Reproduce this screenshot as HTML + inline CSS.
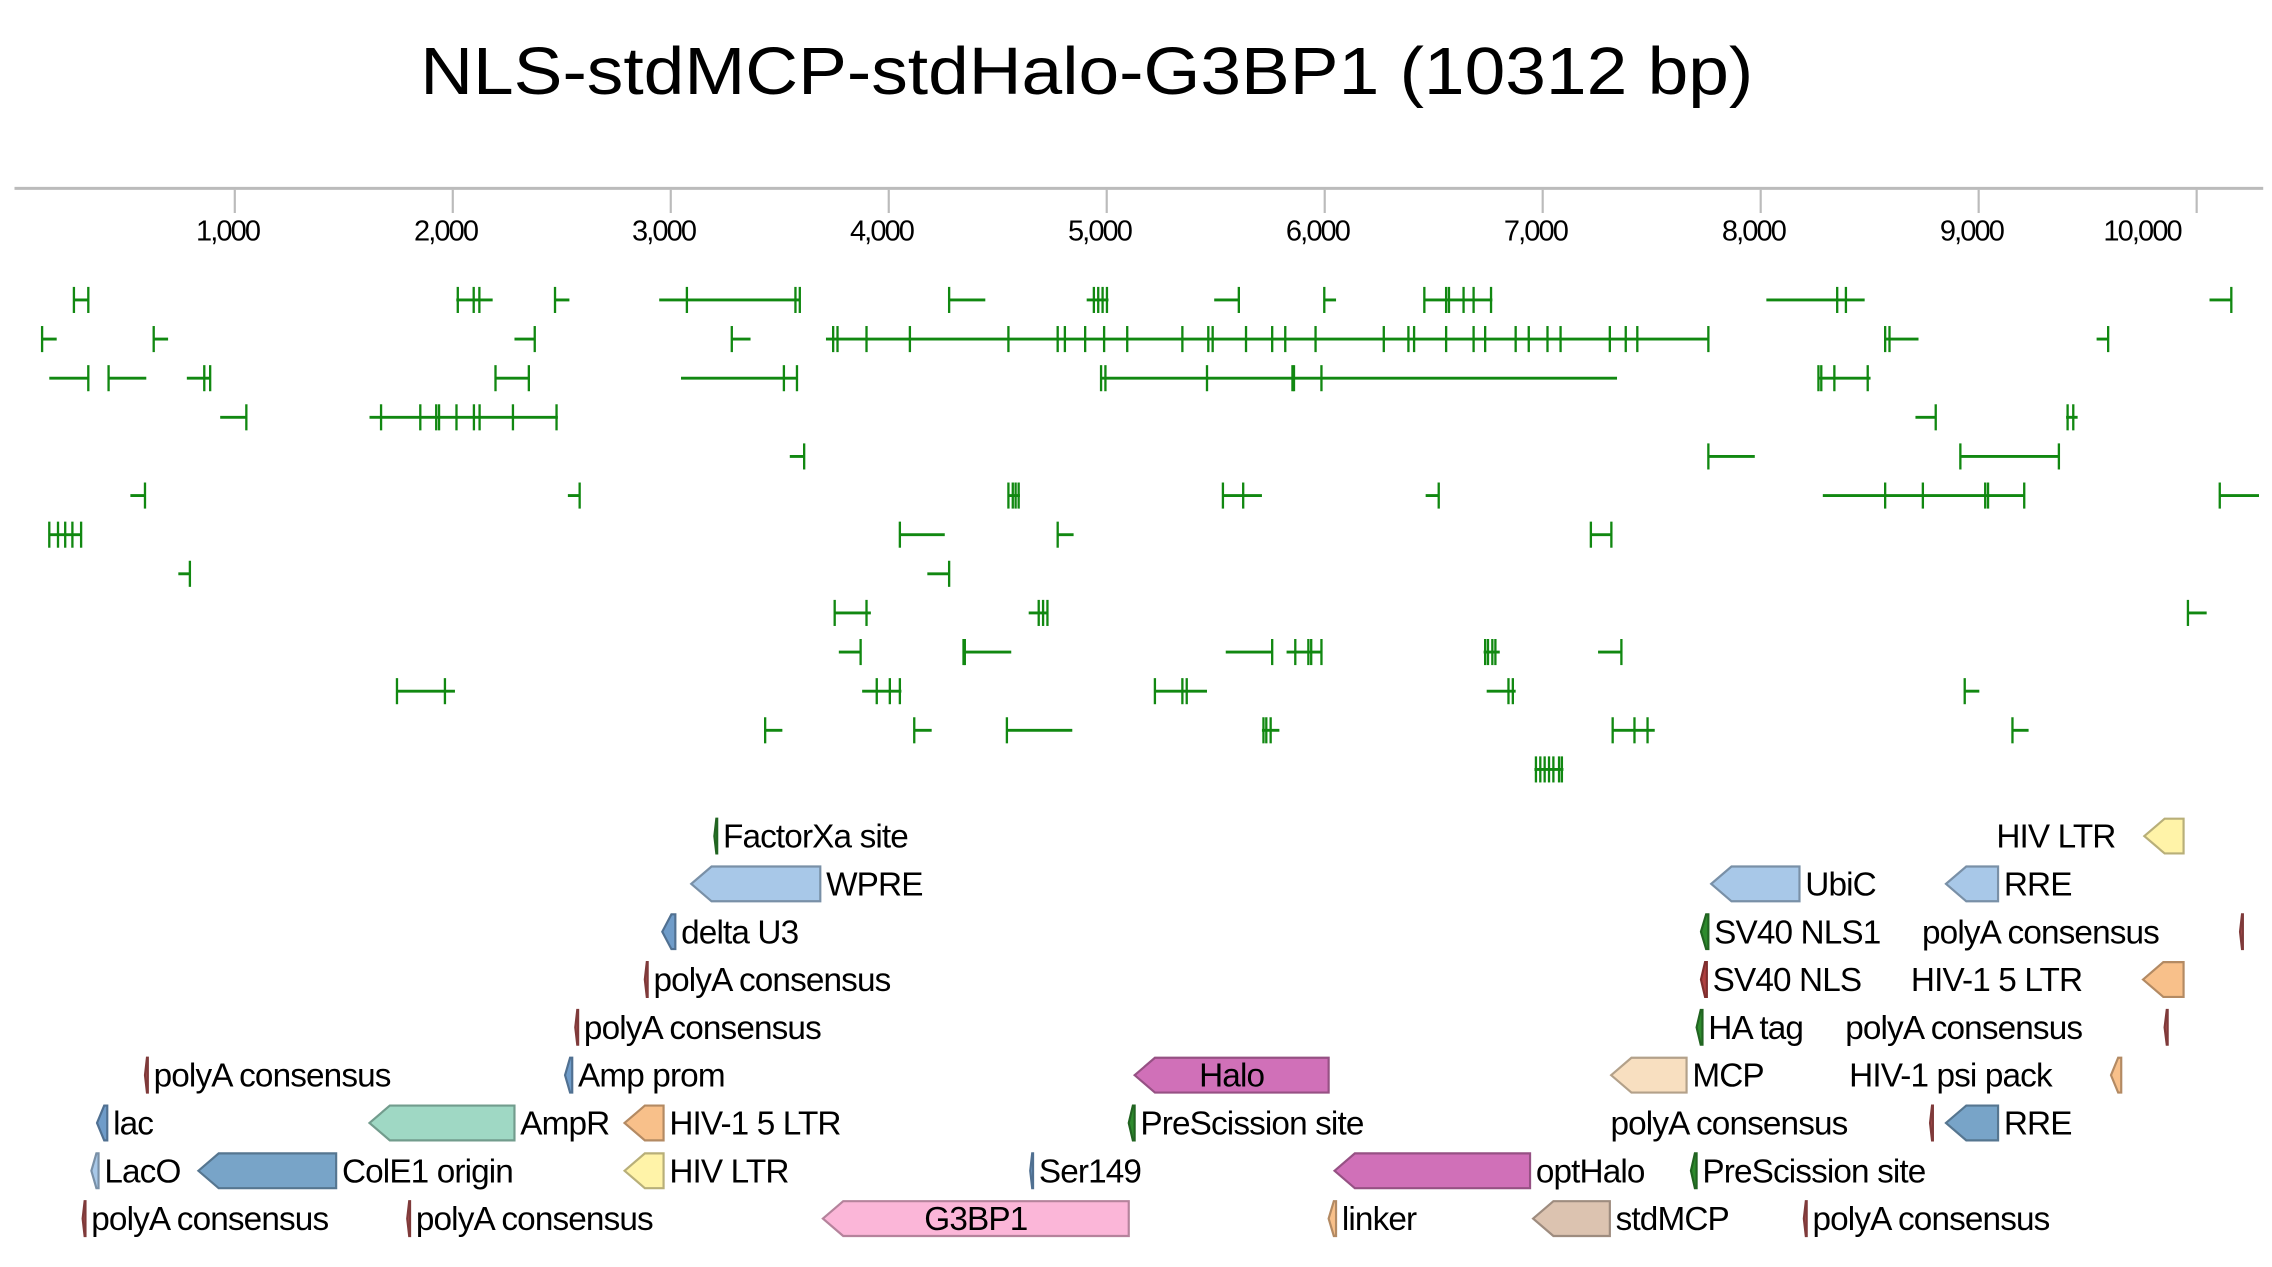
<!DOCTYPE html>
<html><head><meta charset="utf-8"><style>
html,body{margin:0;padding:0;background:#fff;}
svg{display:block;font-family:"Liberation Sans",sans-serif;}
</style></head><body>
<svg id="chart" width="2272" height="1267" viewBox="0 0 1568 874.4" xmlns="http://www.w3.org/2000/svg">
<text x="750" y="65" font-size="46" text-anchor="middle" textLength="920" lengthAdjust="spacingAndGlyphs">NLS-stdMCP-stdHalo-G3BP1 (10312 bp)</text>
<g id="axis"></g>
<g id="orfs"></g>
<g id="feats"></g>
</svg>
<script>
const seqLength = 10312;
const tickValues = [1000,2000,3000,4000,5000,6000,7000,8000,9000,10000];
const tickLabels = ["1,000","2,000","3,000","4,000","5,000","6,000","7,000","8,000","9,000","10,000"];
// ORF rows: each row list of [start, end, [marks...]]
const orfRows = [
 [[262,328,[262,328]],[2016,2183,[2023,2096,2122]],[2469,2535,[2469]],[2947,3592,[3074,3572,3592]],[4277,4443,[4277]],[4908,5008,[4941,4961,4981,5001]],[5493,5606,[5606]],[5998,6052,[5998]],[6457,6769,[6457,6557,6570,6637,6683,6763]],[8026,8477,[8351,8391]],[10059,10159,[10159]]],
 [[116,183,[116]],[628,694,[628]],[2283,2376,[2376]],[3280,3366,[3280]],[3712,7760,[3745,3765,3898,4097,4549,4775,4808,4901,4988,5094,5347,5466,5486,5639,5759,5819,5958,6271,6384,6410,6557,6683,6736,6876,6936,7022,7082,7308,7381,7434,7760]],[8571,8724,[8571,8591]],[9541,9594,[9594]]],
 [[149,328,[328]],[421,594,[421]],[780,887,[860,887]],[2196,2349,[2196,2349]],[3047,3579,[3519,3579]],[4974,7341,[4974,4994,5460,5852,5859,5985]],[8265,8504,[8265,8278,8338,8491]]],
 [[933,1053,[1053]],[1618,2482,[1671,1851,1924,1937,2017,2097,2123,2276,2476]],[8710,8803,[8803]],[9401,9454,[9408,9434]]],
 [[3546,3612,[3612]],[7760,7973,[7760]],[8916,9368,[8916,9368]]],
 [[521,588,[588]],[2528,2582,[2582]],[4549,4602,[4549,4569,4582,4596]],[5533,5712,[5533,5626]],[6463,6523,[6523]],[8285,9209,[8571,8744,9030,9043,9209]],[10106,10286,[10106]]],
 [[149,295,[149,189,222,255,295]],[4051,4257,[4051]],[4775,4848,[4775]],[7221,7315,[7221,7315]]],
 [[741,794,[794]],[4177,4277,[4277]]],
 [[3752,3918,[3752,3898]],[4642,4728,[4688,4708,4728]],[9960,10046,[9960]]],
 [[3771,3871,[3871]],[4343,4562,[4343,4349]],[5546,5759,[5759]],[5825,5985,[5865,5925,5938,5985]],[6729,6803,[6736,6749,6769,6783]],[7254,7361,[7361]]],
 [[1744,2010,[1744,1964]],[3878,4058,[3945,4005,4051]],[5221,5460,[5221,5347,5367]],[6743,6876,[6843,6863]],[8936,9003,[8936]]],
 [[3433,3512,[3433]],[4117,4197,[4117]],[4542,4842,[4542]],[5712,5792,[5719,5732,5752]],[7321,7514,[7321,7421,7481]],[9155,9229,[9155]]],
 [[6962,7095,[6969,6989,7009,7029,7049,7075,7088]]]
];
const featNames = ["FactorXa site","HIV LTR","WPRE","UbiC","RRE","delta U3","SV40 NLS1","polyA consensus","polyA consensus","SV40 NLS","HIV-1 5 LTR","polyA consensus","HA tag","polyA consensus","polyA consensus","Amp prom","Halo","MCP","HIV-1 psi pack","lac","AmpR","HIV-1 5 LTR","PreScission site","polyA consensus","RRE","LacO","ColE1 origin","HIV LTR","Ser149","optHalo","PreScission site","polyA consensus","polyA consensus","G3BP1","linker","stdMCP","polyA consensus"];
const featStart = [3200,9760,3094,7773,8850,2961,7726,10199,2881,7726,9754,2562,7706,9853,588,2515,5128,7314,9607,368,1618,2788,5101,8777,8850,342,833,2788,4649,6045,7680,302,1791,3698,6018,6956,8198];
const featEnd   = [3213,9940,3686,8178,9089,3021,7760,10212,2894,7753,9940,2575,7733,9867,601,2548,6018,7660,9654,415,2283,2967,5128,8790,9089,375,1465,2967,4662,6942,7706,315,1804,5101,6052,7308,8211];
const featRow   = [0,0,1,1,1,2,2,2,3,3,3,4,4,4,5,5,5,5,5,6,6,6,6,6,6,7,7,7,7,7,7,8,8,8,8,8,8];
const featLabelPos = ["r","l","r","r","r","r","r","l","r","r","l","r","r","l","r","r","in","r","l","r","r","r","r","l","r","r","r","r","r","r","r","r","r","in","r","r","r"];
const featLabelLeftEnd = {1:1460,7:1490,10:1437,13:1437,18:1416,23:1275};
const featColor = ["#2e8b2e","#fff3a8","#a8c8e8","#a8c8e8","#a8c8e8","#6f9cc9","#2e8b2e","#b05050","#b05050","#b04040","#f8c08a","#b05050","#2e8b2e","#b05050","#b05050","#6f9cc9","#d070b8","#f8dfc0","#f8c08a","#6f9cc9","#9fd8c4","#f8c08a","#2e8b2e","#b05050","#78a4c8","#a8c8e8","#78a4c8","#fff3a8","#6f9cc9","#d070b8","#2e8b2e","#b05050","#b05050","#fbb6d8","#f8c08a","#dcc3b0","#b05050"];

const NS="http://www.w3.org/2000/svg";
function xs(bp){ return 11.6 + bp*0.15044; }
function mk(tag, attrs, parent){ const e=document.createElementNS(NS,tag); for(const k in attrs) e.setAttribute(k,attrs[k]); parent.appendChild(e); return e; }
function darker(hex){ const n=parseInt(hex.slice(1),16); const r=Math.round(((n>>16)&255)*0.72),g=Math.round(((n>>8)&255)*0.72),b=Math.round((n&255)*0.72); return `rgb(${r},${g},${b})`; }

const axis=document.getElementById('axis');
const axLine=mk('line',{x1:10,y1:130,x2:xs(seqLength)-1,y2:130,stroke:'#bbb','stroke-width':2},axis);


tickValues.forEach((v,i)=>{
  const x=xs(v);
  const t=mk('line',{x1:x,y1:131,x2:x,y2:147,stroke:'#bbb','stroke-width':1.5},axis);
  
  
  const last=i===tickValues.length-1;
  const lb=mk('text',{x:last?x-11:x-5,y:166,'font-size':20,'text-anchor':last?'end':'middle','letter-spacing':-1.3},axis);
  lb.textContent=tickLabels[i];
  
  
});

const orfs=document.getElementById('orfs');
orfRows.forEach((row,ri)=>{
  const y=207+ri*27;
  row.forEach(seg=>{
    const g=mk('g',{},orfs);
    
    
    mk('line',{x1:xs(seg[0]),y1:y,x2:xs(seg[1]),y2:y,stroke:'#118811','stroke-width':2},g);
    seg[2].forEach(m=>{ mk('line',{x1:xs(m),y1:y-9,x2:xs(m),y2:y+9,stroke:'#118811','stroke-width':1.6},g); });
  });
});

const feats=document.getElementById('feats');
featNames.forEach((name,i)=>{
  const yc=577+featRow[i]*33;
  const x1=xs(featStart[i]), x2=xs(featEnd[i]);
  const w=x2-x1, h=24;
  const g=mk('g',{},feats);
  
  
  const notch=Math.min(14, w*0.7);
  const pts=`${x1},${yc} ${x1+notch},${yc-h/2} ${x2},${yc-h/2} ${x2},${yc+h/2} ${x1+notch},${yc+h/2}`;
  mk('polygon',{points:pts,fill:featColor[i],stroke:darker(featColor[i]),'stroke-width':1.5},g);
  const pos=featLabelPos[i];
  let tx, anchor;
  if(pos==='in'){ tx=(x1+x2)/2; anchor='middle'; }
  else if(pos==='l'){ tx=featLabelLeftEnd[i]; anchor='end'; }
  else { tx=x2+4; anchor='start'; }
  const t=mk('text',{x:tx,y:yc+8,'font-size':23,'text-anchor':anchor,'letter-spacing':-0.6},g);
  t.textContent=name;
});
</script>
</body></html>
